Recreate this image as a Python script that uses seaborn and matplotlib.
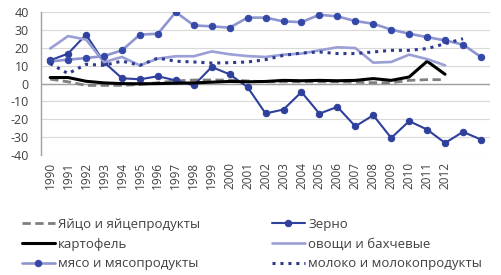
import numpy as np
import pandas as pd
import matplotlib
matplotlib.use("Agg")
import matplotlib.pyplot as plt
import seaborn as sns

years = list(range(1990, 2015))
tick_labels = [str(y) for y in range(1990, 2013)]

eggs = [2.5, 1.0, -1.0, -1.0, -1.0, -0.5, 0.5, 1.5, 2.0, 2.0, 2.0, 1.5, 1.0, 1.0, 1.0, 1.0, 1.0, 0.8, 0.5, 0.5, 1.8, 2.2, 2.2]
grain = [13.0, 16.8, 27.4, 12.0, 3.0, 2.4, 4.1, 1.8, -1.0, 9.3, 5.2, -2.0, -16.7, -14.5, -4.7, -16.8, -13.0, -23.9, -17.7, -30.4, -21.0, -25.7, -33.2, -27.0, -31.3]
potato = [3.4, 3.4, 1.3, 0.4, 0.0, -0.1, 0.0, 0.2, 0.4, 0.8, 1.2, 1.0, 1.2, 1.8, 1.6, 1.8, 1.6, 1.8, 2.8, 1.8, 3.7, 12.5, 5.2]
vegetables = [19.6, 26.6, 24.6, 12.0, 14.9, 10.2, 14.0, 15.3, 15.3, 18.0, 16.4, 15.4, 14.9, 16.2, 16.8, 18.6, 20.3, 19.9, 11.7, 12.1, 16.2, 13.7, 10.2]
meat = [12.4, 13.4, 14.3, 15.4, 18.6, 27.4, 27.9, 40.0, 32.6, 32.0, 31.3, 36.9, 36.9, 34.8, 34.4, 38.5, 37.6, 35.0, 33.5, 30.2, 27.9, 26.0, 24.2, 21.8, 14.9]
milk = [11.2, 5.6, 10.8, 10.2, 12.6, 10.2, 14.3, 12.5, 12.1, 11.5, 11.7, 12.1, 13.4, 15.8, 17.1, 17.7, 16.8, 16.8, 17.7, 18.6, 18.6, 19.6, 22.3, 25.1]

names = ["Яйцо и яйцепродукты", "Зерно", "картофель", "овощи и бахчевые",
         "мясо и мясопродукты", "молоко и молокопродукты"]
series = [eggs, grain, potato, vegetables, meat, milk]

fig = plt.figure(figsize=(5.02, 2.75), dpi=100)
sns.set_style("white")
plt.rcParams['font.family'] = ['Open Sans', 'DejaVu Sans']
ax = fig.add_axes([0.082, 0.436, 0.894, 0.52])

styles = {
    names[0]: dict(color="#7F7F7F", lw=2.0, ls=(0, (3, 1.6)), marker=None),
    names[1]: dict(color="#2F3F9C", lw=1.5, ls="-", marker="o", ms=4.6, mfc="#2F3F9C", mec="#2F3F9C"),
    names[2]: dict(color="#000000", lw=2.2, ls="-", marker=None),
    names[3]: dict(color="#9A9FD6", lw=1.9, ls="-", marker=None),
    names[4]: dict(color="#8F95D0", lw=1.9, ls="-", marker="o", ms=4.6, mfc="#3448A8", mec="#3448A8"),
    names[5]: dict(color="#2E3A8C", lw=2.2, ls=(0, (1, 1.6)), marker=None),
}

for name, vals in zip(names, series):
    st = styles[name]
    df = pd.DataFrame({"x": np.arange(len(vals)), "y": vals})
    kw = dict(color=st["color"], linewidth=st["lw"], linestyle=st["ls"])
    if st["marker"]:
        kw.update(marker=st["marker"], markersize=st["ms"], markerfacecolor=st["mfc"],
                  markeredgecolor=st["mec"])
    sns.lineplot(data=df, x="x", y="y", ax=ax, label=name, **kw)

ax.set_xlim(-0.5, len(years) - 0.5)
ax.set_ylim(-40, 40)
ax.set_yticks(range(-40, 41, 10))
ax.set_yticklabels([str(v) for v in range(-40, 41, 10)], fontsize=9, color="#404040")
ax.set_xticks(range(len(tick_labels)))
ax.set_xticklabels(tick_labels, rotation=90, fontsize=8.5, color="#404040")
ax.tick_params(axis="y", length=0, pad=9)
ax.tick_params(axis="x", length=0, pad=5)
ax.set_xlabel("")
ax.set_ylabel("")
ax.grid(axis="y", color="#D9D9D9", lw=0.8)
ax.set_axisbelow(True)
ax.axhline(0, color="#A0A0A0", lw=1.0, zorder=1.5)
for s in ["top", "right", "bottom"]:
    ax.spines[s].set_visible(False)
ax.spines["left"].set_color("#A0A0A0")
ax.spines["left"].set_linewidth(1.0)

h, l = ax.get_legend_handles_labels()
ax.get_legend().remove()
common = dict(frameon=False, loc="upper left", fontsize=9.5, handlelength=2.5,
              handletextpad=0.25, labelspacing=0.5, borderaxespad=0, borderpad=0,
              labelcolor="#404040")
fig.legend([h[0], h[2], h[4]], [l[0], l[2], l[4]],
           bbox_to_anchor=(22 / 502, 1 - 218 / 275), **common)
fig.legend([h[1], h[3], h[5]], [l[1], l[3], l[5]],
           bbox_to_anchor=(272 / 502, 1 - 218 / 275), **common)

fig.savefig("out.png", dpi=100)
